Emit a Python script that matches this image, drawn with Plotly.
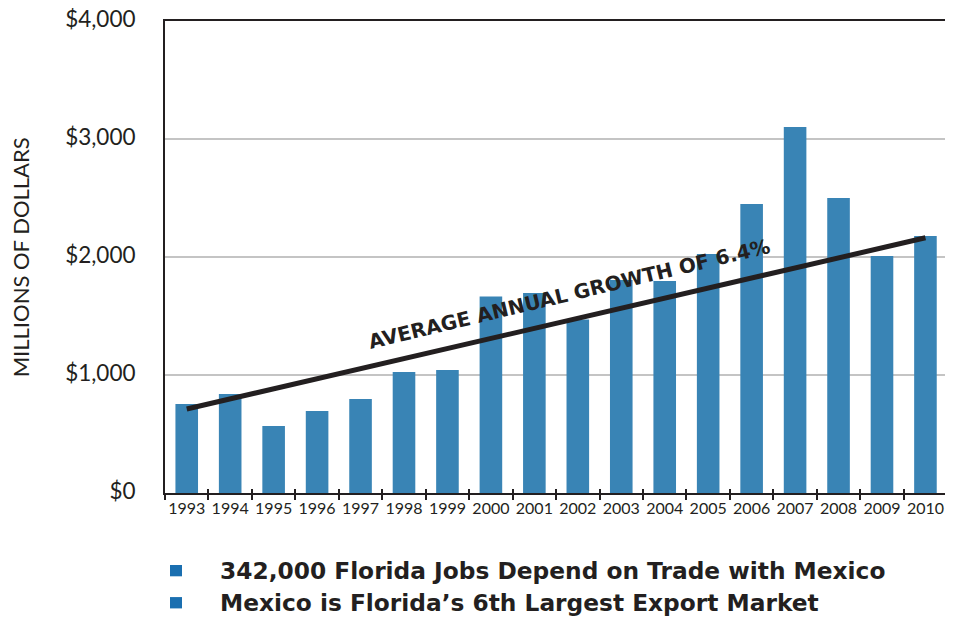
import plotly.graph_objects as go

years = ["1993", "1994", "1995", "1996", "1997", "1998", "1999", "2000", "2001",
         "2002", "2003", "2004", "2005", "2006", "2007", "2008", "2009", "2010"]
exports = [755, 840, 568, 695, 797, 1025, 1042, 1665, 1695,
           1470, 1805, 1797, 2025, 2449, 3102, 2500, 2008, 2178]
trend_years = ["1993", "2010"]
trend_values = [712, 2163]
y_ticks = [0, 1000, 2000, 3000, 4000]
y_tick_labels = ["$0", "$1,000", "$2,000", "$3,000", "$4,000"]
notes = ["342,000 Florida Jobs Depend on Trade with Mexico",
         "Mexico is Florida\u2019s 6th Largest Export Market"]
growth_label = "AVERAGE ANNUAL GROWTH OF 6.4%"
y_title = "MILLIONS OF DOLLARS"

DARK = "#231f20"
BAR = "#3984b5"
SQUARE = "#1a6fb0"
FONT = "Lato"
BOLD_FONT = "DejaVu Sans"

fig = go.Figure()
fig.add_trace(go.Bar(x=years, y=exports, marker=dict(color=BAR, line=dict(width=0)),
                     width=0.52, showlegend=False, hoverinfo="x+y"))
fig.add_trace(go.Scatter(x=trend_years, y=trend_values, mode="lines",
                         line=dict(color=DARK, width=5), showlegend=False))
# inner half of the crossing tick marks
fig.add_trace(go.Scatter(x=years, y=[None] * len(years), xaxis="x2", showlegend=False,
                         hoverinfo="skip"))

# note rows (bulleted text under the chart)
note_rows_y = [-0.165, -0.233]
annotations = [
    dict(text=growth_label, x=8.8, y=1690, xref="x", yref="y",
         showarrow=False, textangle=-13.5,
         font=dict(size=20, color=DARK, family=BOLD_FONT, weight="bold")),
    dict(text=y_title, x=-0.1855, y=0.5, xref="paper", yref="paper",
         showarrow=False, textangle=-90, xanchor="center", yanchor="middle",
         font=dict(size=22, color=DARK, family=FONT)),
]
shapes = []
for note, ny in zip(notes, note_rows_y):
    annotations.append(dict(text=note, x=0.0679, y=ny, xref="paper", yref="paper",
                            xanchor="left", yanchor="middle", showarrow=False,
                            font=dict(size=23.3, color=DARK, family=BOLD_FONT,
                                      weight="bold")))
    shapes.append(dict(type="rect", xref="paper", yref="paper",
                       x0=0.0064, x1=0.0218, y0=ny + 0.0125, y1=ny - 0.0115,
                       fillcolor=SQUARE, line=dict(width=0)))

# the page body adds an 8px margin around the figure
fig.update_layout(
    width=937, height=610,
    margin=dict(l=157, r=0, t=13, b=125),
    paper_bgcolor="white", plot_bgcolor="white",
    bargap=0.48, showlegend=False,
    font=dict(family=FONT, color=DARK),
    xaxis=dict(type="category", categoryorder="array", categoryarray=years,
               range=[-0.5, 17.45], automargin=False, tickangle=0,
               showline=True, linecolor=DARK, linewidth=2, mirror=True,
               ticks="outside", tickson="boundaries", ticklen=5, tickwidth=2,
               tickcolor=DARK, showgrid=False, ticklabeloverflow="allow",
               tickfont=dict(size=16, color=DARK, family=FONT)),
    xaxis2=dict(type="category", categoryorder="array", categoryarray=years,
                range=[-0.5, 17.45], overlaying="x", automargin=False,
                ticks="inside", tickson="boundaries", ticklen=4, tickwidth=2,
                tickcolor=DARK, showticklabels=False, showgrid=False,
                showline=False, side="bottom"),
    yaxis=dict(range=[0, 4000], tickvals=y_ticks, ticktext=y_tick_labels,
               automargin=False, ticklabeloverflow="allow",
               showline=True, linecolor=DARK, linewidth=2,
               showgrid=True, gridcolor="#c4c4c4", gridwidth=2,
               zeroline=False, ticks="", ticklabelstandoff=23,
               ticklabelshift=-2,
               tickfont=dict(size=22.5, color=DARK, family=FONT)),
    annotations=annotations,
    shapes=shapes,
)

fig.write_html("out.html")
